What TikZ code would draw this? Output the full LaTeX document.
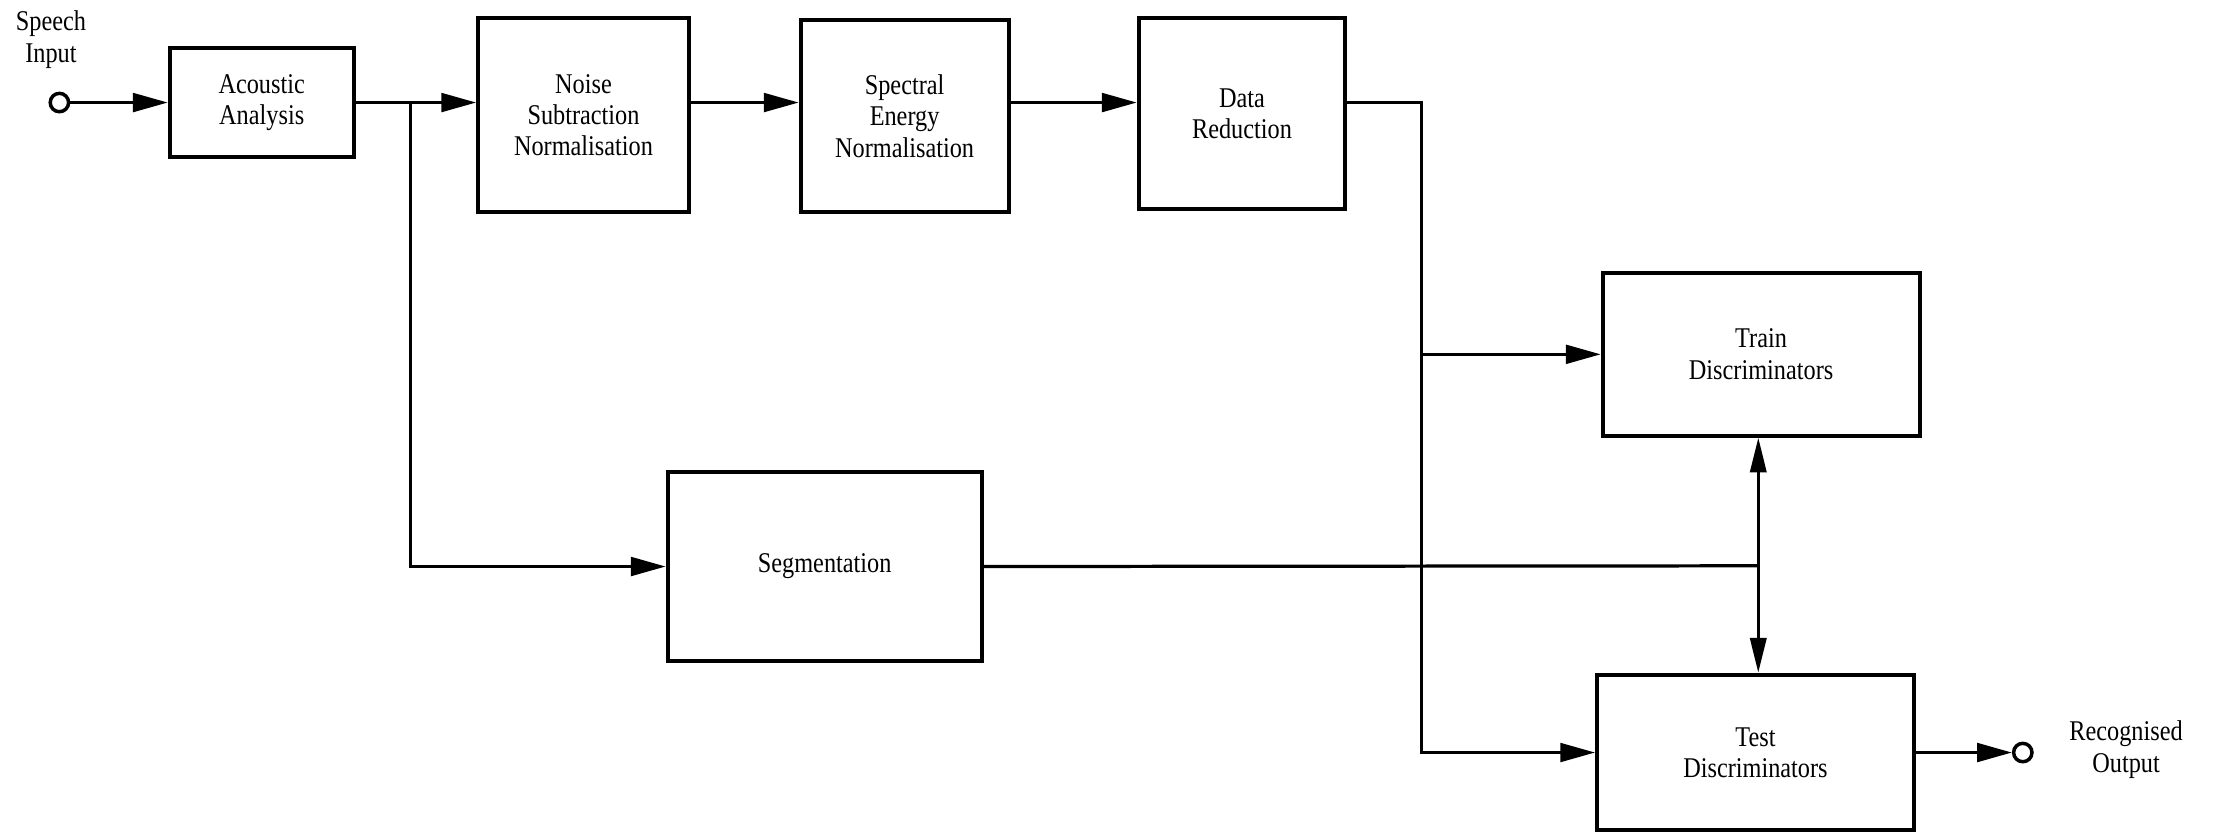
\documentclass[tikz,border=0pt]{standalone}
\usepackage{fontspec}
\setmainfont{Liberation Serif}[FakeStretch=0.85]
\usetikzlibrary{arrows.meta}

\begin{document}
\begin{tikzpicture}[x=0.02cm, y=-0.02cm, line width=1.3pt,
            block/.style={draw, line width=1.6pt, align=center, font=\fontsize{11.5}{12.6}\selectfont},
            iolabel/.style={align=center, font=\fontsize{11.5}{12.6}\selectfont},
            port/.style={draw, circle, line width=1.4pt, minimum size=0.26cm},
            arr/.style={-{Triangle[length=14pt, width=7.5pt]}},
            dblarr/.style={{Triangle[length=14pt, width=6.5pt]}-{Triangle[length=14pt, width=6.5pt]}}]
            \tikzstyle{every node}+=[inner sep=0pt]
            \useasboundingbox (0, 0) rectangle (1568, 590);
            \node [iolabel] (speech) at (36, 28) {Speech\\Input};
            \node [port] (in) at (42, 72.5) {};
            \node [block, minimum width=2.6cm, minimum height=1.54cm] (acoustic) at (185, 72.5) {Acoustic\\Analysis};
            \node [block, minimum width=2.98cm, minimum height=2.74cm] (noise) at (412.5, 81.5) {Noise\\Subtraction\\Normalisation};
            \node [block, minimum width=2.94cm, minimum height=2.72cm] (spectral) at (639.5, 82) {Spectral\\Energy\\Normalisation};
            \node [block, minimum width=2.92cm, minimum height=2.7cm] (reduction) at (878, 80.5) {Data\\Reduction};
            \node [block, minimum width=4.48cm, minimum height=2.3cm] (train) at (1245, 250.5) {Train\\Discriminators};
            \node [block, minimum width=4.44cm, minimum height=2.66cm] (segment) at (583, 400.5) {Segmentation};
            \node [block, minimum width=4.48cm, minimum height=2.2cm] (test) at (1241, 532) {Test\\Discriminators};
            \node [port] (out) at (1430, 532) {};
            \node [iolabel] (recog) at (1503, 530) {Recognised\\Output};
            \coordinate (split) at (290, 72.5);
            \coordinate (drop) at (1005, 248);
            \coordinate (join) at (1243, 400);
            \draw [arr] (in.east) -- (acoustic.west);
            \draw [arr] (acoustic.east) -- (acoustic.east -| noise.west);
            \draw [arr] (split) |- (segment.west);
            \draw [arr] (noise.east |- acoustic.east) -- (spectral.west |- acoustic.east);
            \draw [arr] (spectral.east |- acoustic.east) -- (reduction.west |- acoustic.east);
            \draw [arr] (reduction.east |- acoustic.east) -| (drop |- test.west) -- (test.west);
            \draw [arr] (drop |- train.west) -- (train.west);
            \draw (segment.east) -- (join);
            \draw [dblarr] (train.south -| join) -- (test.north -| join);
            \draw [arr] (test.east) -- (out.west);
\end{tikzpicture}
\end{document}
